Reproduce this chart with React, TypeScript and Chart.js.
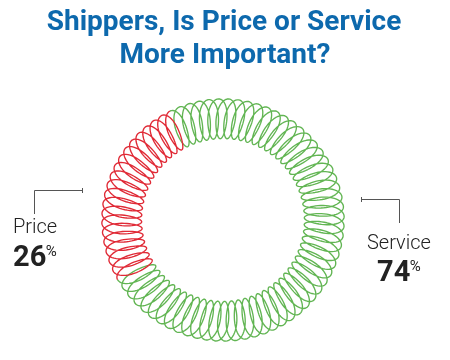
import React, { useEffect, useRef } from 'react';
import { Chart, registerables } from 'chart.js';

Chart.register(...registerables);

const categories = ['Service', 'Price'];
const values = [74, 26];
const seriesColors = ['#62b553', '#e02a36'];
const titleLines = ['Shippers, Is Price or Service', 'More Important?'];
const LOOPS_TOTAL = 76;

const springPlugin = {
  id: 'springRing',
  afterDatasetsDraw(chart: any) {
    const ctx = chart.ctx;
    const meta = chart.getDatasetMeta(0);
    meta.data.forEach((arc: any, i: number) => {
      const p = arc.getProps(['x', 'y', 'startAngle', 'endAngle', 'innerRadius', 'outerRadius'], true);
      const span = p.endAngle - p.startAngle;
      const n = Math.max(1, Math.round((LOOPS_TOTAL * span) / (2 * Math.PI)));
      const rm = (p.innerRadius + p.outerRadius) / 2;
      const h = (p.outerRadius - p.innerRadius) / 2 - 0.8;
      const step = span / n;
      const wob = step * 0.92;
      const seg = 48;
      ctx.save();
      ctx.strokeStyle = seriesColors[i];
      ctx.lineWidth = 1.35;
      ctx.lineJoin = 'round';
      ctx.beginPath();
      for (let k = 0; k <= n * seg; k++) {
        const u = k / seg;
        const t = u * 2 * Math.PI;
        const th = p.startAngle + step * u + wob * Math.sin(t + 0.25);
        const r = rm + h * Math.cos(t);
        const px = p.x + r * Math.cos(th);
        const py = p.y + r * Math.sin(th);
        if (k === 0) ctx.moveTo(px, py);
        else ctx.lineTo(px, py);
      }
      ctx.stroke();
      ctx.restore();
    });
  },
};

const textPlugin = {
  id: 'textAnnotations',
  afterDraw(chart: any) {
    const ctx = chart.ctx;
    const total = values.reduce((a, b) => a + b, 0);
    ctx.save();
    ctx.fillStyle = '#0d69ad';
    ctx.font = 'bold 28px Roboto';
    ctx.textAlign = 'center';
    ctx.textBaseline = 'alphabetic';
    ctx.fillText(titleLines[0], 224, 30);
    ctx.fillText(titleLines[1], 225, 63);

    ctx.strokeStyle = '#555';
    ctx.lineWidth = 1;
    ctx.beginPath();
    ctx.moveTo(34.5, 214);
    ctx.lineTo(34.5, 190.5);
    ctx.lineTo(83, 190.5);
    ctx.moveTo(82.5, 188);
    ctx.lineTo(82.5, 193);
    ctx.moveTo(399.5, 223);
    ctx.lineTo(399.5, 199.5);
    ctx.lineTo(361, 199.5);
    ctx.moveTo(361.5, 197);
    ctx.lineTo(361.5, 202);
    ctx.stroke();

    const drawLabel = (name: string, val: number, nx: number, ny: number, vx: number, vy: number) => {
      ctx.fillStyle = '#222';
      ctx.textAlign = 'left';
      ctx.font = '300 20px Roboto';
      ctx.fillText(name, nx, ny);
      const pct = String(Math.round((val / total) * 100));
      ctx.font = 'bold 29px Roboto';
      ctx.fillText(pct, vx, vy);
      const w = ctx.measureText(pct).width;
      ctx.font = '15px Roboto';
      ctx.fillText('%', vx + w - 0.5, vy - 10);
    };
    drawLabel(categories[1], values[1], 13, 233, 13, 266);
    drawLabel(categories[0], values[0], 367, 249, 377, 281);
    ctx.restore();
  },
};

export default function App() {
  const ref = useRef<HTMLCanvasElement>(null);
  useEffect(() => {
    document.body.style.margin = '0';
    const chart = new Chart(ref.current as HTMLCanvasElement, {
      type: 'doughnut',
      data: {
        labels: categories,
        datasets: [
          {
            data: values,
            backgroundColor: 'rgba(0,0,0,0)',
            borderWidth: 0,
            hoverOffset: 0,
          },
        ],
      },
      options: {
        responsive: false,
        animation: false,
        rotation: -27,
        cutout: '66%',
        layout: { padding: { top: 98, bottom: 18, left: 101, right: 105 } },
        plugins: { legend: { display: false }, tooltip: { enabled: false } },
        events: [],
      },
      plugins: [springPlugin, textPlugin],
    });
    return () => chart.destroy();
  }, []);
  return (
    <div style={{ width: 450, height: 360, background: '#fff' }}>
      <canvas ref={ref} width={450} height={360} />
    </div>
  );
}
